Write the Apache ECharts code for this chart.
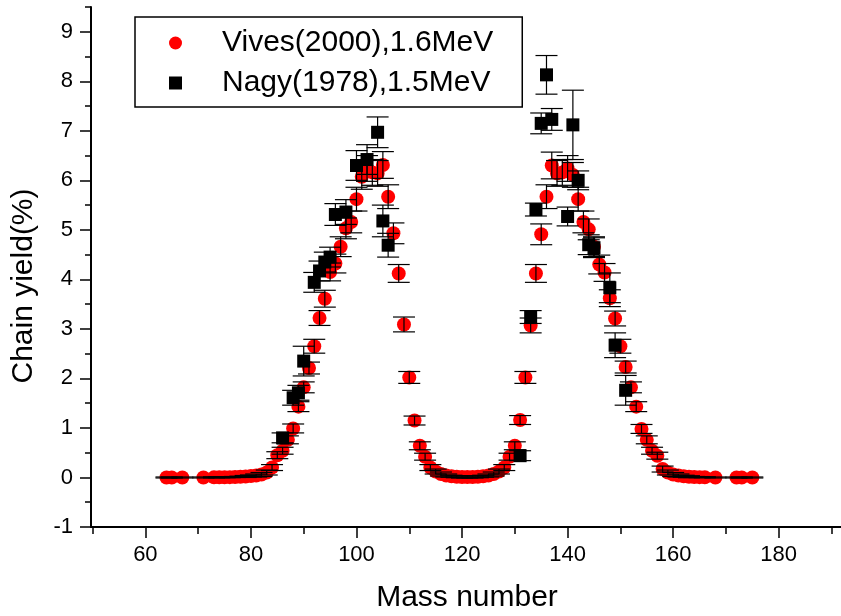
<!DOCTYPE html>
<html><head><meta charset="utf-8">
<script src="https://cdn.jsdelivr.net/npm/echarts@6/dist/echarts.min.js"></script>
<style>html,body{margin:0;padding:0;background:#fff}#c{width:841px;height:616px}</style>
</head><body><div id="c"></div>
<script>
// ---- data ----
const vivesMass  = [64,65,67,71,73,74,75,76,77,78,79,80,81,82,83,84,85,86,87,88,89,90,91,92,93,94,95,96,97,98,99,100,101,102,103,104,105,106,107,108,109,110,111,112,113,114,115,116,117,118,119,120,121,122,123,124,125,126,127,128,129,130,131,132,133,134,135,136,137,138,139,140,141,142,143,144,145,146,147,148,149,150,151,152,153,154,155,156,157,158,159,160,161,162,163,164,165,166,168,172,173,175];
const vivesYield = [0,0,0,0,0.003,0.004,0.005,0.007,0.01,0.015,0.02,0.03,0.04,0.06,0.1,0.2,0.45,0.54,0.76,0.99,1.43,1.82,2.21,2.65,3.22,3.61,4.15,4.32,4.66,5.03,5.16,5.62,6.07,6.24,6.16,6.14,6.31,5.67,4.93,4.12,3.09,2.02,1.15,0.64,0.42,0.2,0.12,0.07,0.04,0.025,0.015,0.01,0.01,0.01,0.015,0.025,0.04,0.07,0.12,0.2,0.42,0.64,1.16,2.02,3.07,4.12,4.91,5.67,6.3,6.14,6.16,6.24,6.11,5.62,5.16,5.01,4.66,4.3,4.14,3.62,3.21,2.65,2.23,1.82,1.43,0.98,0.76,0.54,0.44,0.17,0.1,0.06,0.04,0.025,0.015,0.01,0.007,0.005,0,0,0,0];
const vivesErr   = [0.01,0.01,0.01,0.01,0.01,0.01,0.01,0.01,0.01,0.01,0.02,0.02,0.03,0.04,0.05,0.06,0.07,0.07,0.08,0.09,0.1,0.11,0.12,0.14,0.15,0.17,0.18,0.19,0.2,0.21,0.22,0.24,0.25,0.26,0.26,0.26,0.27,0.24,0.21,0.18,0.15,0.12,0.09,0.08,0.07,0.06,0.05,0.04,0.03,0.02,0.02,0.02,0.02,0.02,0.02,0.02,0.03,0.04,0.05,0.06,0.07,0.08,0.09,0.12,0.15,0.18,0.21,0.24,0.27,0.26,0.26,0.26,0.25,0.24,0.22,0.21,0.2,0.19,0.18,0.17,0.15,0.14,0.12,0.11,0.1,0.09,0.08,0.07,0.07,0.06,0.05,0.04,0.03,0.02,0.02,0.01,0.01,0.01,0.01,0.01,0.01,0.01];

const nagyMass  = [86,88,89,90,92,93,94,95,96,98,100,102,104,105,106,131,133,134,135,136,137,140,141,142,144,145,148,149,151];
const nagyYield = [0.8,1.61,1.71,2.35,3.94,4.17,4.35,4.45,5.31,5.36,6.3,6.42,6.97,5.18,4.69,0.44,3.24,5.41,7.15,8.13,7.23,5.27,7.12,6.0,4.7,4.64,3.83,2.67,1.76];
const nagyErr   = [0.1,0.15,0.15,0.3,0.2,0.2,0.2,0.2,0.22,0.25,0.3,0.3,0.31,0.32,0.24,0.1,0.13,0.13,0.21,0.39,0.22,0.19,0.7,0.19,0.2,0.2,0.3,0.25,0.3];

const seriesNames = ['Vives(2000),1.6MeV', 'Nagy(1978),1.5MeV'];
const xMajorTicks = [60,80,100,120,140,160,180];
const xMinorTicks = [50,70,90,110,130,150,170,190];
const yMajorTicks = [-1,0,1,2,3,4,5,6,7,8,9];
const yMinorTicks = [-0.5,0.5,1.5,2.5,3.5,4.5,5.5,6.5,7.5,8.5,9.5];
const xTitle = 'Mass number';
const yTitle = 'Chain yield(%)';

// ---- build ----
const FONT = "'Liberation Sans', Arial, sans-serif";
const vivesPts = vivesMass.map((m,i)=>[m, vivesYield[i]]);
const vivesErrPts = vivesMass.map((m,i)=>[m, vivesYield[i], vivesErr[i]]);
const nagyPts = nagyMass.map((m,i)=>[m, nagyYield[i]]);
const nagyErrPts = nagyMass.map((m,i)=>[m, nagyYield[i], nagyErr[i]]);

function errRender(params, api) {
  const x = api.value(0), y = api.value(1), e = api.value(2);
  const hi = api.coord([x, y + e]);
  const lo = api.coord([x, y - e]);
  const w = 11;
  const style = { stroke: '#000', lineWidth: 1.2, fill: null };
  return { type: 'group', children: [
    { type: 'line', shape: { x1: hi[0], y1: hi[1], x2: lo[0], y2: lo[1] }, style: style },
    { type: 'line', shape: { x1: hi[0]-w, y1: hi[1], x2: hi[0]+w, y2: hi[1] }, style: style },
    { type: 'line', shape: { x1: lo[0]-w, y1: lo[1], x2: lo[0]+w, y2: lo[1] }, style: style }
  ]};
}

const XMIN = 49.7, XMAX = 191.8, YMIN = -1, YMAX = 9.5;
const axisLineStyle = { color: '#000', width: 2 };
const tickStyle = { color: '#000', width: 1.5 };

const chart = echarts.init(document.getElementById('c'), null, { renderer: 'canvas' });
chart.setOption({
  animation: false,
  backgroundColor: '#fff',
  grid: { left: 91, right: 0, top: 7, bottom: 89, containLabel: false },
  xAxis: [
    { type: 'value', min: XMIN, max: XMAX, position: 'bottom',
      axisLine: { show: true, onZero: false, lineStyle: axisLineStyle },
      axisTick: { show: true, customValues: xMajorTicks, length: 11, lineStyle: tickStyle },
      axisLabel: { show: true, customValues: xMajorTicks, fontSize: 22, color: '#000', fontFamily: FONT, margin: 17 },
      splitLine: { show: false } },
    { type: 'value', min: XMIN, max: XMAX, position: 'bottom', gridIndex: 0,
      axisLine: { show: false, onZero: false },
      axisTick: { show: true, customValues: xMinorTicks, length: 7, lineStyle: tickStyle },
      axisLabel: { show: false }, splitLine: { show: false } }
  ],
  yAxis: [
    { type: 'value', min: YMIN, max: YMAX, position: 'left',
      axisLine: { show: true, onZero: false, lineStyle: axisLineStyle },
      axisTick: { show: true, customValues: yMajorTicks, length: 11, lineStyle: tickStyle },
      axisLabel: { show: true, customValues: yMajorTicks, fontSize: 22, color: '#000', fontFamily: FONT, margin: 18 },
      splitLine: { show: false } },
    { type: 'value', min: YMIN, max: YMAX, position: 'left', gridIndex: 0,
      axisLine: { show: false, onZero: false },
      axisTick: { show: true, customValues: yMinorTicks, length: 6, lineStyle: tickStyle },
      axisLabel: { show: false }, splitLine: { show: false } }
  ],
  legend: {
    orient: 'vertical', left: 135, top: 17,
    padding: [11, 29, 9, 34], itemGap: 10, itemWidth: 13, itemHeight: 13,
    borderColor: '#000', borderWidth: 1.5, backgroundColor: '#fff',
    textStyle: { fontSize: 30, fontFamily: FONT, color: '#000', padding: [0,0,0,35], lineHeight: 30 },
    data: [ { name: seriesNames[0], icon: 'circle' }, { name: seriesNames[1], icon: 'rect' } ]
  },
  graphic: [
    { type: 'text', x: 24, y: 286, rotation: Math.PI/2,
      style: { text: yTitle, fontSize: 30, fontFamily: FONT, fill: '#000', align: 'center', verticalAlign: 'middle' } },
    { type: 'text', x: 467, y: 598,
      style: { text: xTitle, fontSize: 30, fontFamily: FONT, fill: '#000', align: 'center', verticalAlign: 'middle' } }
  ],
  series: [
    { name: seriesNames[0], type: 'scatter', data: vivesPts, symbol: 'circle', symbolSize: 14,
      itemStyle: { color: '#ff0000', opacity: 1 }, z: 2, xAxisIndex: 0, yAxisIndex: 0 },
    { name: seriesNames[1], type: 'scatter', data: nagyPts, symbol: 'rect', symbolSize: 13,
      itemStyle: { color: '#000000', opacity: 1 }, z: 3, xAxisIndex: 0, yAxisIndex: 0 },
    { name: 'vivesErr', type: 'custom', data: vivesErrPts, renderItem: errRender,
      encode: { x: 0, y: 1 }, z: 4, xAxisIndex: 0, yAxisIndex: 0, silent: true },
    { name: 'nagyErr', type: 'custom', data: nagyErrPts, renderItem: errRender,
      encode: { x: 0, y: 1 }, z: 5, xAxisIndex: 0, yAxisIndex: 0, silent: true }
  ]
});
</script>
</body></html>
